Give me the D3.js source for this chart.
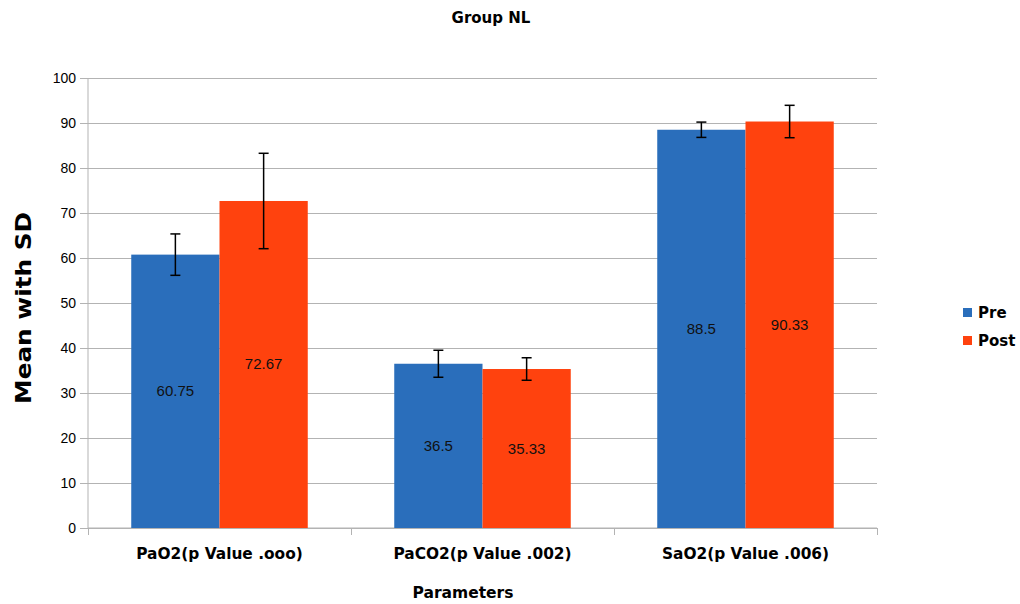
<!DOCTYPE html>
<html><head><meta charset="utf-8">
<script src="https://cdn.jsdelivr.net/npm/d3@7"></script>
<style>body{margin:0;background:#fff}svg{display:block}</style>
</head><body>
<svg id="c" width="1020" height="604"></svg>
<script>
const categories = ["PaO2(p Value .ooo)", "PaCO2(p Value .002)", "SaO2(p Value .006)"];
const seriesNames = ["Pre", "Post"];
const preValues = [60.75, 36.5, 88.5];
const postValues = [72.67, 35.33, 90.33];
const preSD = [4.6, 3.0, 1.7];
const postSD = [10.6, 2.5, 3.6];
const yTicks = [0, 10, 20, 30, 40, 50, 60, 70, 80, 90, 100];
const colors = ["#2a6ebb", "#ff420e"];

const svg = d3.select("#c");
const L = 88, R = 877, T = 78, B = 528;
const x0 = d3.scaleBand().domain(categories).range([L, R]).paddingInner(0).paddingOuter(0);
const x1 = d3.scaleBand().domain(seriesNames).range([0, x0.bandwidth()]).paddingInner(0).paddingOuter(0.49);
const y = d3.scaleLinear().domain([0, 100]).range([B, T]);

// gridlines
svg.append("g").selectAll("line").data(yTicks).join("line")
  .attr("x1", L).attr("x2", R).attr("y1", d => y(d)).attr("y2", d => y(d))
  .attr("stroke", "#b3b3b3").attr("stroke-width", 1).attr("shape-rendering", "crispEdges");

// y axis
const ya = svg.append("g").attr("transform", `translate(${L},0)`)
  .call(d3.axisLeft(y).tickValues(yTicks).tickSize(8).tickPadding(4));
ya.select(".domain").attr("stroke", "#b3b3b3").attr("d", `M-0,${B}V${T}`);
ya.selectAll(".tick line").attr("stroke", "#b3b3b3");
ya.selectAll(".tick text").attr("font-family", "Liberation Sans, Arial, sans-serif").attr("font-size", 14).attr("fill", "#000");

// x axis
const xa = svg.append("g").attr("transform", `translate(0,${B})`)
  .call(d3.axisBottom(x0).tickSize(0).tickPadding(20));
xa.select(".domain").attr("stroke", "#b3b3b3").attr("d", `M${L},0H${R}`);
xa.selectAll(".tick text").attr("font-family", "DejaVu Sans, sans-serif").attr("font-weight", "bold").attr("font-size", 15.4).attr("fill", "#000");
svg.append("g").selectAll("line").data([L, R].concat(categories.slice(1).map(c => x0(c)))).join("line")
  .attr("x1", d => d).attr("x2", d => d).attr("y1", B).attr("y2", B + 7)
  .attr("stroke", "#b3b3b3").attr("shape-rendering", "crispEdges");

const rows = categories.map((c, i) => ({
  cat: c,
  vals: [
    {s: "Pre", v: preValues[i], sd: preSD[i], c: colors[0]},
    {s: "Post", v: postValues[i], sd: postSD[i], c: colors[1]}
  ]
}));

const g = svg.append("g").selectAll("g").data(rows).join("g")
  .attr("transform", d => `translate(${x0(d.cat)},0)`);
g.selectAll("rect").data(d => d.vals).join("rect")
  .attr("x", d => x1(d.s)).attr("width", x1.bandwidth())
  .attr("y", d => y(d.v)).attr("height", d => B - y(d.v))
  .attr("fill", d => d.c);
g.selectAll("text.val").data(d => d.vals).join("text").attr("class", "val")
  .attr("x", d => x1(d.s) + x1.bandwidth() / 2)
  .attr("y", d => (y(d.v) + B) / 2 + 5)
  .attr("text-anchor", "middle").attr("font-family", "Liberation Sans, Arial, sans-serif")
  .attr("font-size", 15).attr("fill", "#111").text(d => d.v);
// error bars
const eb = g.selectAll("g.eb").data(d => d.vals).join("g").attr("class", "eb")
  .attr("stroke", "#000").attr("stroke-width", 1.5);
eb.append("line").attr("x1", d => x1(d.s) + x1.bandwidth() / 2).attr("x2", d => x1(d.s) + x1.bandwidth() / 2)
  .attr("y1", d => y(d.v + d.sd)).attr("y2", d => y(d.v - d.sd));
eb.append("line").attr("x1", d => x1(d.s) + x1.bandwidth() / 2 - 5).attr("x2", d => x1(d.s) + x1.bandwidth() / 2 + 5)
  .attr("y1", d => y(d.v + d.sd)).attr("y2", d => y(d.v + d.sd));
eb.append("line").attr("x1", d => x1(d.s) + x1.bandwidth() / 2 - 5).attr("x2", d => x1(d.s) + x1.bandwidth() / 2 + 5)
  .attr("y1", d => y(d.v - d.sd)).attr("y2", d => y(d.v - d.sd));

// titles
svg.append("text").attr("x", 491).attr("y", 23).attr("text-anchor", "middle")
  .attr("font-family", "DejaVu Sans, sans-serif").attr("font-weight", "bold").attr("font-size", 15).text("Group NL");
svg.append("text").attr("x", 463).attr("y", 598).attr("text-anchor", "middle")
  .attr("font-family", "DejaVu Sans, sans-serif").attr("font-weight", "bold").attr("font-size", 15.5).text("Parameters");
svg.append("text").attr("transform", "translate(31,308) rotate(-90)").attr("text-anchor", "middle")
  .attr("font-family", "DejaVu Sans, sans-serif").attr("font-weight", "bold").attr("font-size", 22)
  .attr("textLength", 192).attr("lengthAdjust", "spacingAndGlyphs").text("Mean with SD");

// legend
const lg = svg.append("g").selectAll("g").data(seriesNames).join("g")
  .attr("transform", (d, i) => `translate(963,${308 + i * 28})`);
lg.append("rect").attr("width", 9).attr("height", 9).attr("fill", (d, i) => colors[i]);
lg.append("text").attr("x", 15).attr("y", 10).attr("font-family", "DejaVu Sans, sans-serif")
  .attr("font-weight", "bold").attr("font-size", 15).text(d => d);
</script>
</body></html>
